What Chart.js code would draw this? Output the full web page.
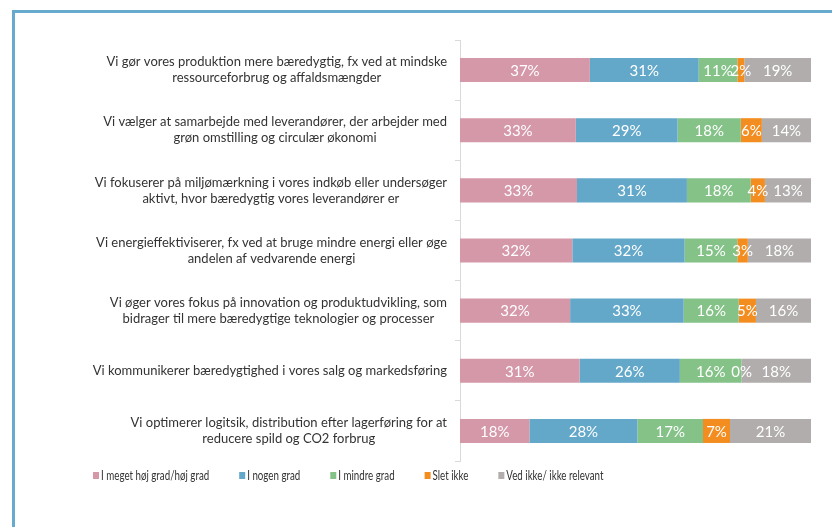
<!DOCTYPE html>
<html>
<head>
<meta charset="utf-8">
<script src="https://cdn.jsdelivr.net/npm/chart.js@4/dist/chart.umd.min.js"></script>
<style>
    html, body { margin: 0; padding: 0; background: #fff; overflow: hidden; width: 832px; height: 527px; }
    #frame {
        position: absolute; left: 12px; top: 10px;
        width: 870px; height: 600px;
        border: 3px solid #66abcd;
        background: #fff;
    }
    #wrap { position: absolute; left: 0; top: 0; width: 840px; height: 560px; }
</style>
</head>
<body>
<div id="frame">
    <div id="wrap"><canvas id="chart"></canvas></div>
</div>
<script>
// Kategorier (spørgsmål)
const categories = [
    ['Vi gør vores produktion mere bæredygtig, fx ved at mindske', 'ressourceforbrug og affaldsmængder'],
    ['Vi vælger at samarbejde med leverandører, der arbejder med', 'grøn omstilling og circulær økonomi'],
    ['Vi fokuserer på miljømærkning i vores indkøb eller undersøger', 'aktivt, hvor bæredygtig vores leverandører er'],
    ['Vi energieffektiviserer, fx ved at bruge mindre energi eller øge', 'andelen af vedvarende energi'],
    ['Vi øger vores fokus på innovation og produktudvikling, som', 'bidrager til mere bæredygtige teknologier og processer'],
    ['Vi kommunikerer bæredygtighed i vores salg og markedsføring'],
    ['Vi optimerer logitsik, distribution efter lagerføring for at', 'reducere spild og CO2 forbrug']
];

// Svar i procent (som vist i etiketterne)
const hoejGrad   = [37, 33, 33, 32, 32, 31, 18];
const nogenGrad  = [31, 29, 31, 32, 33, 26, 28];
const mindreGrad = [11, 18, 18, 15, 16, 16, 17];
const sletIkke   = [2, 6, 4, 3, 5, 0, 7];
const vedIkke    = [19, 14, 13, 18, 16, 18, 21];

const seriesNames = ['I meget høj grad/høj grad', 'I nogen grad', 'I mindre grad', 'Slet ikke', 'Ved ikke/ ikke relevant'];
const seriesColors = ['#d498a9', '#63a7c9', '#84c288', '#f38d1f', '#b1adad'];

const allSeries = [hoejGrad, nogenGrad, mindreGrad, sletIkke, vedIkke];

// 100% stablet: hver række skaleres til sin sum
const rowTotals = categories.map((c, i) => allSeries.reduce((s, arr) => s + arr[i], 0));

const LABEL_FONT = '13px Lato';
const VALUE_FONT = '15px Lato';
const LEGEND_FONT = '13px Lato';
const LEGEND_SQUEEZE = 0.75; // smal skrift i forklaringen

// Plugin: værdier i søjlerne
const valueLabels = {
    id: 'valueLabels',
    afterDatasetsDraw(chart) {
        const ctx = chart.ctx;
        ctx.save();
        ctx.font = VALUE_FONT;
        ctx.fillStyle = '#ffffff';
        ctx.textAlign = 'center';
        ctx.textBaseline = 'middle';
        chart.data.datasets.forEach((ds, di) => {
            const meta = chart.getDatasetMeta(di);
            meta.data.forEach((bar, i) => {
                const x = (bar.x + bar.base) / 2;
                ctx.fillText(ds.raw[i] + '%', x, bar.y + 1);
            });
        });
        ctx.restore();
    }
};

// Plugin: kategoritekster (centreret linje for linje, højrestillet blok)
const categoryLabels = {
    id: 'categoryLabels',
    afterDraw(chart) {
        const ctx = chart.ctx;
        const yScale = chart.scales.y;
        const rightEdge = yScale.right - 13;
        const lineH = 16;
        ctx.save();
        ctx.font = LABEL_FONT;
        ctx.fillStyle = '#333333';
        ctx.textAlign = 'center';
        ctx.textBaseline = 'middle';
        categories.forEach((lines, i) => {
            const y = yScale.getPixelForValue(i);
            const maxW = Math.max(...lines.map(l => ctx.measureText(l).width));
            const cx = rightEdge - maxW / 2;
            const startY = y - (lines.length - 1) * lineH / 2;
            lines.forEach((l, k) => ctx.fillText(l, cx, startY + k * lineH));
        });
        ctx.restore();
    }
};

// Plugin: forklaring nederst
const bottomLegend = {
    id: 'bottomLegend',
    afterDraw(chart) {
        const ctx = chart.ctx;
        const y = chart.chartArea.bottom + 15;
        let x = 78;
        ctx.save();
        ctx.font = LEGEND_FONT;
        ctx.textBaseline = 'middle';
        ctx.textAlign = 'left';
        chart.data.datasets.forEach(ds => {
            ctx.fillStyle = ds.backgroundColor;
            ctx.fillRect(x, y - 4, 6, 7);
            ctx.fillStyle = '#333333';
            const tx = x + 8;
            ctx.save();
            ctx.translate(tx, y);
            ctx.scale(LEGEND_SQUEEZE, 1);
            ctx.fillText(ds.label, 0, 0);
            ctx.restore();
            x = tx + ctx.measureText(ds.label).width * LEGEND_SQUEEZE + 30;
        });
        ctx.restore();
    }
};

const datasets = allSeries.map((arr, si) => ({
    label: seriesNames[si],
    data: arr.map((v, i) => v / rowTotals[i] * 100),
    raw: arr,
    backgroundColor: seriesColors[si],
    borderWidth: 0,
    barPercentage: 0.4,
    categoryPercentage: 1.0
}));

new Chart(document.getElementById('chart'), {
    type: 'bar',
    data: {
        labels: categories.map(c => c.join(' ')),
        datasets: datasets
    },
    options: {
        indexAxis: 'y',
        responsive: true,
        maintainAspectRatio: false,
        animation: false,
        layout: {
            padding: { top: 27, right: 44, bottom: 112, left: 0 }
        },
        plugins: {
            legend: { display: false },
            tooltip: { enabled: false }
        },
        scales: {
            x: {
                stacked: true,
                min: 0,
                max: 100,
                display: false
            },
            y: {
                stacked: true,
                afterFit: (scale) => { scale.width = 445; },
                grid: {
                    offset: true,
                    drawOnChartArea: false,
                    tickLength: 5,
                    color: '#d9d9d9'
                },
                border: { color: '#d9d9d9', width: 1 },
                ticks: { display: false }
            }
        }
    },
    plugins: [valueLabels, categoryLabels, bottomLegend]
});
</script>
</body>
</html>
